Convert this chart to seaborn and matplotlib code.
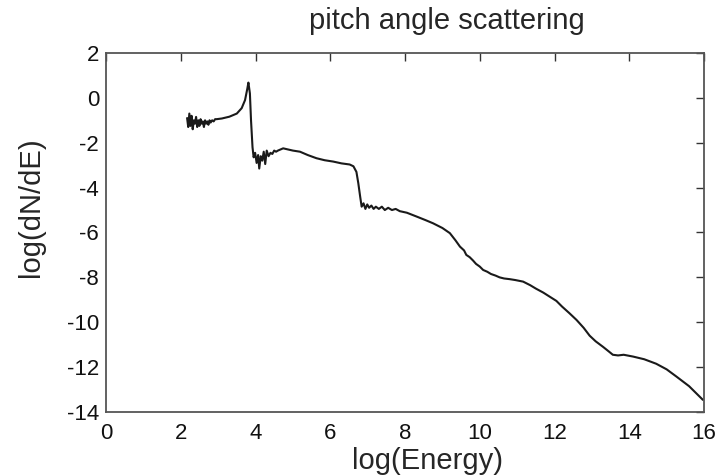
import matplotlib
matplotlib.use("Agg")
import matplotlib.pyplot as plt
import seaborn as sns
import pandas as pd

# log(Energy) / log(dN/dE)
log_energia = [
    2.17, 2.20, 2.23, 2.26, 2.29, 2.32, 2.35, 2.38, 2.41, 2.44, 2.47, 2.50,
    2.53, 2.56, 2.59, 2.62, 2.65, 2.68, 2.71, 2.74, 2.77, 2.80, 2.84, 2.88,
    2.92, 2.96, 3.10, 3.30, 3.50, 3.63, 3.72, 3.78, 3.81, 3.85, 3.88, 3.92,
    3.95, 3.99, 4.03, 4.07, 4.10, 4.14, 4.18, 4.22, 4.26, 4.30, 4.35, 4.40,
    4.45, 4.50, 4.55, 4.60, 4.74, 5.00, 5.19, 5.40, 5.63, 5.85, 6.08, 6.30,
    6.52, 6.62, 6.70, 6.75, 6.80, 6.84, 6.89, 6.94, 6.99, 7.04, 7.10, 7.16,
    7.22, 7.30, 7.38, 7.46, 7.55, 7.65, 7.75, 7.86, 8.05, 8.31, 8.55, 8.75,
    9.00, 9.20, 9.35, 9.47, 9.58, 9.64, 9.73, 9.82, 9.90, 10.00, 10.09,
    10.20, 10.30, 10.42, 10.53, 10.65, 10.80, 10.95, 11.16, 11.35, 11.50,
    11.70, 11.87, 12.05, 12.20, 12.40, 12.59, 12.78, 12.94, 13.10, 13.30,
    13.45, 13.56, 13.70, 13.85, 14.10, 14.40, 14.72, 15.00, 15.26, 15.60,
    15.97,
]
log_dnde = [
    -0.90, -1.30, -0.70, -1.25, -0.80, -1.40, -1.00, -1.15, -0.85, -1.30,
    -1.00, -1.25, -0.95, -1.15, -1.05, -1.30, -1.00, -1.15, -1.05, -1.20,
    -1.00, -1.10, -1.00, -1.05, -0.95, -0.95, -0.92, -0.84, -0.70, -0.46,
    -0.10, 0.40, 0.68, 0.20, -1.00, -2.20, -2.65, -2.45, -2.90, -2.55,
    -3.15, -2.60, -2.80, -2.40, -2.95, -2.35, -2.60, -2.45, -2.50, -2.35,
    -2.40, -2.35, -2.25, -2.35, -2.40, -2.55, -2.69, -2.78, -2.84, -2.92,
    -2.97, -3.05, -3.30, -3.80, -4.40, -4.85, -4.70, -4.95, -4.75, -4.90,
    -4.80, -4.95, -4.85, -4.95, -4.85, -5.00, -4.90, -5.00, -4.95, -5.05,
    -5.12, -5.29, -5.45, -5.59, -5.80, -6.03, -6.35, -6.63, -6.80, -7.00,
    -7.10, -7.25, -7.40, -7.52, -7.67, -7.75, -7.85, -7.92, -8.00, -8.05,
    -8.08, -8.12, -8.19, -8.35, -8.50, -8.68, -8.86, -9.05, -9.30, -9.60,
    -9.90, -10.25, -10.60, -10.85, -11.10, -11.30, -11.45, -11.48, -11.45,
    -11.53, -11.65, -11.85, -12.10, -12.42, -12.85, -13.46,
]

df = pd.DataFrame({'log_energia': log_energia, 'log_dnde': log_dnde})

sns.set_theme(style="white")
plt.rcParams['font.family'] = ['Liberation Sans', 'DejaVu Sans']
plt.rcParams['axes.unicode_minus'] = False

fig = plt.figure(figsize=(7.27, 4.76), dpi=100)
ax = fig.add_axes([0.1458, 0.1345, 0.8226, 0.7542])

sns.lineplot(data=df, x='log_energia', y='log_dnde', sort=False,
             estimator=None, color='#1a1a1a', linewidth=1.5, ax=ax)

ax.set_xlim(0, 16)
ax.set_ylim(-14, 2)
ax.set_xticks(range(0, 17, 2))
ax.set_yticks(range(-14, 3, 2))
ax.tick_params(direction='in', length=6, width=1, top=True, right=True,
               labelsize=16, colors='#333333', labelcolor='#111111')
ax.tick_params(axis='x', pad=8)
ax.tick_params(axis='y', pad=5)
for lado in ax.spines.values():
    lado.set_color('#555555')
    lado.set_linewidth(1.3)

# rótulos um pouco deslocados, como no original
ax.set_xlabel('log(Energy)', fontsize=21)
ax.xaxis.set_label_coords(0.538, -0.098)
ax.set_ylabel('log(dN/dE)', fontsize=21)
ax.yaxis.set_label_coords(-0.102, 0.571)
ax.set_title('pitch angle scattering', fontsize=21, x=0.57, y=1.067, pad=0)

fig.savefig('out.png', dpi=100)
